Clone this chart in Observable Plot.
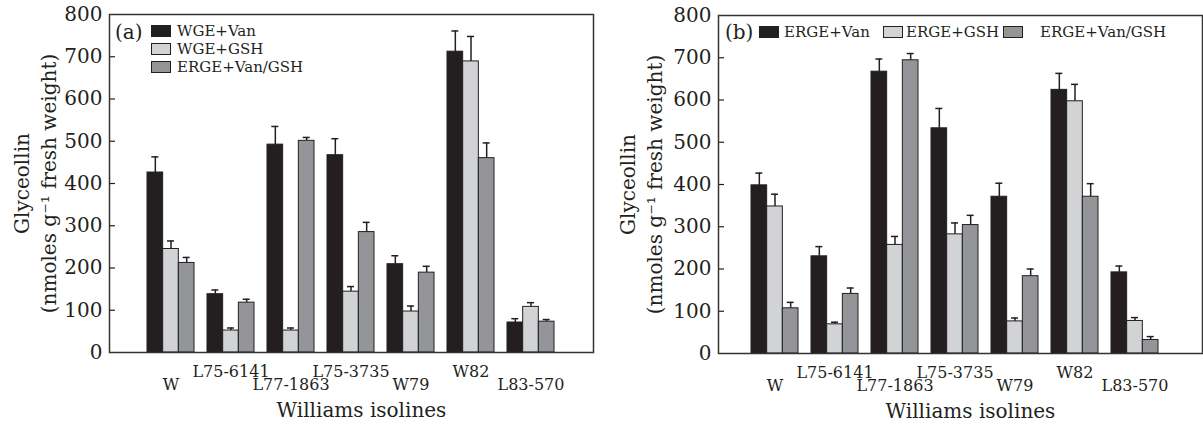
<!DOCTYPE html>
<html><head><meta charset="utf-8">
<script src="https://cdn.jsdelivr.net/npm/d3@7"></script>
<script src="https://cdn.jsdelivr.net/npm/@observablehq/plot@0.6"></script>
<style>
body{margin:0;background:#fff;}
#chart{position:relative;width:1203px;height:428px;overflow:hidden;font-family:"DejaVu Serif",serif;color:#231f20;}
.panel{position:absolute;top:0;}
.tag{position:absolute;font-size:20px;line-height:20px;}
.leg{position:absolute;font-size:15px;line-height:16px;white-space:nowrap;}
.sw{position:absolute;width:18px;height:10px;border:1px solid #231f20;box-sizing:content-box;}
</style></head><body><div id="chart"></div>
<script>
// ---------- data ----------
const isolines = ["W","L75-6141","L77-1863","L75-3735","W79","W82","L83-570"];
const yTicks = [0,100,200,300,400,500,600,700,800];
const colors = ["#231f20","#d1d3d4","#939598"];

// Panel (a)
const seriesA = ["WGE+Van","WGE+GSH","ERGE+Van/GSH"];
const a_wgeVan     = [426,138,492,467,209,712,71];
const a_wgeVanErr  = [37,10,43,39,20,49,9];
const a_wgeGsh     = [245,52,52,144,97,689,108];
const a_wgeGshErr  = [19,6,6,12,13,59,10];
const a_ergeVG     = [212,118,501,285,189,460,73];
const a_ergeVGErr  = [13,8,8,23,15,36,5];

// Panel (b)
const seriesB = ["ERGE+Van","ERGE+GSH","ERGE+Van/GSH"];
const b_ergeVan    = [398,230,667,533,371,624,192];
const b_ergeVanErr = [29,23,30,47,32,39,15];
const b_ergeGsh    = [348,69,257,282,76,597,77];
const b_ergeGshErr = [29,5,20,27,8,40,8];
const b_ergeVG     = [107,141,694,304,183,371,32];
const b_ergeVGErr  = [14,14,16,23,17,31,8];

const yTitle = "Glyceollin\n(nmoles g\u207B\u00B9 fresh weight)";
const xTitle = "Williams isolines";

// ---------- drawing ----------
const W = 600, H = 428;
function panel({vals, errs, marginLeft, marginRight, marginTop, marginBottom, align, titleDx, xTitleDx}) {
  const frameW = W - marginLeft - marginRight;
  const pIn = 0.223, pOut = 0.611;
  const step = frameW / (isolines.length - pIn + 2 * pOut);
  const bw = step * (1 - pIn);
  const sub = bw / 3;
  const marks = [];
  vals.forEach((vs, s) => {
    const rows = isolines.map((iso, i) => ({iso, v: vs[i], e: errs[s][i]}));
    const c = (s + 0.5) * sub;
    marks.push(Plot.ruleX(rows, {x: "iso", y1: "v", y2: d => d.v + d.e, dx: c - bw / 2, stroke: "#231f20", strokeWidth: 1.5}));
    marks.push(Plot.tickY(rows, {x: "iso", y: d => d.v + d.e, insetLeft: c - 3.5, insetRight: bw - c - 3.5, stroke: "#231f20", strokeWidth: 1.5}));
    marks.push(Plot.barY(rows, {x: "iso", y: "v", fill: colors[s], stroke: "#231f20", strokeWidth: 1, insetLeft: s * sub, insetRight: (2 - s) * sub}));
  });
  // inward y ticks
  marks.push(Plot.tickY(yTicks.slice(1, -1), {y: d => d, insetRight: frameW - 6, stroke: "#231f20", strokeWidth: 1.2}));
  marks.push(Plot.frame({stroke: "#333", strokeWidth: 1.5}));
  // staggered category labels
  const lab = isolines.map((iso, i) => ({iso, i}));
  marks.push(Plot.text(lab.filter(d => d.i % 2 === 0), {x: "iso", text: "iso", frameAnchor: "bottom", lineAnchor: "middle", dy: 32, fontSize: 16, fill: "#231f20"}));
  marks.push(Plot.text(lab.filter(d => d.i % 2 === 1), {x: "iso", text: "iso", frameAnchor: "bottom", lineAnchor: "middle", dy: 19, fontSize: 16, fill: "#231f20"}));
  marks.push(Plot.text([xTitle], {frameAnchor: "bottom", lineAnchor: "middle", dy: 58, dx: xTitleDx, fontSize: 20, fill: "#231f20"}));
  marks.push(Plot.text([yTitle], {frameAnchor: "left", textAnchor: "middle", lineAnchor: "middle", rotate: -90, dx: titleDx, fontSize: 20, lineHeight: 1.35, fill: "#231f20"}));
  return Plot.plot({
    width: W, height: H, marginLeft, marginRight, marginTop, marginBottom,
    style: {fontFamily: "DejaVu Serif", fontSize: "20px", color: "#231f20", background: "transparent", overflow: "visible"},
    x: {type: "band", domain: isolines, paddingInner: pIn, paddingOuter: pOut, align, axis: null},
    y: {domain: [0, 800], ticks: yTicks, tickSize: 0, tickPadding: 7, label: null},
    marks
  });
}

const chart = document.getElementById("chart");
const pa = panel({
  vals: [a_wgeVan, a_wgeGsh, a_ergeVG], errs: [a_wgeVanErr, a_wgeGshErr, a_ergeVGErr],
  marginLeft: 109, marginRight: 7, marginTop: 14, marginBottom: 76, align: 0.49, titleDx: -76, xTitleDx: 10
});
pa.classList.add("panel"); pa.style.left = "0px";
chart.appendChild(pa);

const pb = panel({
  vals: [b_ergeVan, b_ergeGsh, b_ergeVG], errs: [b_ergeVanErr, b_ergeGshErr, b_ergeVGErr],
  marginLeft: 115, marginRight: 1, marginTop: 15, marginBottom: 75, align: 0.43, titleDx: -79, xTitleDx: 10
});
pb.classList.add("panel"); pb.style.left = "603px";
chart.appendChild(pb);

// legends
function addEl(cls, left, top, text, bg) {
  const d = document.createElement("div");
  d.className = cls; d.style.left = left + "px"; d.style.top = top + "px";
  if (text != null) d.textContent = text;
  if (bg) d.style.background = bg;
  chart.appendChild(d);
}
addEl("tag", 115, 22, "(a)");
seriesA.forEach((s, i) => {
  const cy = 30.5 + i * 18;
  addEl("sw", 151, cy - 6, null, colors[i]);
  addEl("leg", 177, cy - 8, s);
});
addEl("tag", 725, 22, "(b)");
const bSw = [759, 883, 1003], bTx = [784, 906, 1040];
seriesB.forEach((s, i) => {
  addEl("sw", bSw[i], 26, null, colors[i]);
  addEl("leg", bTx[i], 24, s);
});
</script></body></html>
